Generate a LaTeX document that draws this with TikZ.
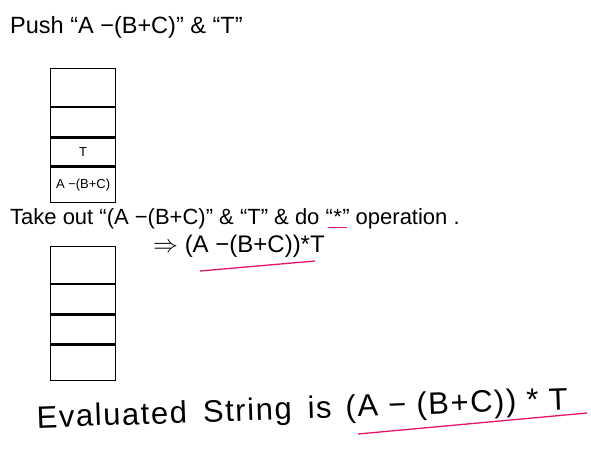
\documentclass[tikz,border=0pt]{standalone}
\usepackage{fontspec}
\setmainfont{Liberation Sans}
\newfontfamily\widehand[LetterSpace=5]{Liberation Sans}
\usetikzlibrary{positioning}
\definecolor{penred}{RGB}{228,20,105}
\begin{document}
\begin{tikzpicture}[x=1pt,y=-1pt,
    cell/.style={draw, line width=1.2pt, minimum width=65pt, inner sep=0pt, font=\fontsize{13}{13}\selectfont},
    note/.style={anchor=base west, inner sep=0pt, font=\fontsize{22}{24}\selectfont},
    mark red/.style={penred, line width=1.3pt}]
    \useasboundingbox (0,0) rectangle (591,463);

    % first stack: after the push
    \node[note, font=\fontsize{23.5}{25}\selectfont] (push) at (10,33) {Push “A −(B+C)” \& “T”};
    \node[cell, minimum height=38pt, anchor=north west] (a1) at (50,68) {};
    \node[cell, minimum height=29pt] (a2) [below=0pt of a1] {};
    \node[cell, minimum height=28pt] (a3) [below=0pt of a2] {T};
    \node[cell, minimum height=35pt] (a4) [below=0pt of a3] {A −(B+C)};

    % popping both and applying *
    \node[note] (take) at (10,224) {Take out “(A −(B+C)” \& “T” \& do “};
    \node[note] (star) at (take.base east) {*};
    \node[note] (op) at (star.base east) {” operation .};
    \draw[mark red] ([xshift=-5pt,yshift=-3pt]star.south west) -- ([xshift=5pt,yshift=-3pt]star.south east);
    \node[note, font=\fontsize{24}{26}\selectfont] (res) at (153,252) {$\Rightarrow$ (A −(B+C))*T};
    \draw[mark red] (200,271) -- (315,261);

    % second stack: empty again
    \node[cell, minimum height=37pt, anchor=north west] (b1) at (50,246) {};
    \node[cell, minimum height=29pt] (b2) [below=0pt of b1] {};
    \node[cell, minimum height=29pt] (b3) [below=0pt of b2] {};
    \node[cell, minimum height=35pt] (b4) [below=0pt of b3] {};

    \node[note, font=\widehand\fontsize{31}{33}\selectfont, rotate=2] (eval) at (37,428)
        {Evaluated\hspace{16pt}String\hspace{16pt}is\hspace{14pt}(A − (B+C)) * T};
    \draw[mark red] (358,434) -- (587,413);
\end{tikzpicture}
\end{document}
